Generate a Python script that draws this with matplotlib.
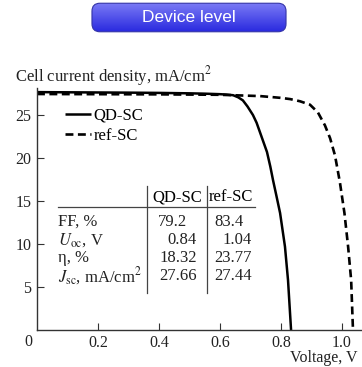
import numpy as np
import matplotlib
matplotlib.use("Agg")
import matplotlib.pyplot as plt
from matplotlib.patches import FancyBboxPatch
from matplotlib.lines import Line2D

# ---- data ----
qd_v = [0, 0.1, 0.2, 0.3, 0.4, 0.5, 0.55, 0.6, 0.62, 0.643, 0.66, 0.675, 0.69, 0.708,
        0.72, 0.731, 0.742, 0.754, 0.765, 0.774, 0.785, 0.797, 0.813, 0.823, 0.833]
qd_j = [27.66, 27.64, 27.62, 27.6, 27.57, 27.52, 27.48, 27.42, 27.38, 27.3, 27.05, 26.7,
        26.0, 25.0, 24.1, 23.0, 21.9, 20.7, 19.0, 17.4, 15.6, 13.6, 9.7, 5.8, 0]
ref_v = [0, 0.2, 0.4, 0.6, 0.731, 0.797, 0.83, 0.862, 0.895, 0.921, 0.944, 0.961,
         0.977, 0.993, 1.008, 1.02, 1.03, 1.036]
ref_j = [27.44, 27.42, 27.4, 27.35, 27.2, 27.0, 26.85, 26.6, 26.2, 25.3, 23.8, 22.3,
         20.3, 17.2, 13.6, 9.7, 5.8, 0]

series_labels = ["QD-SC", "ref-SC"]
param_labels = ["FF, %", r"$U_{\rm oc}$, V", "η, %", r"$J_{\rm sc}$, mA/cm$^2$"]
qd_vals = ["79.2", "0.84", "18.32", "27.66"]
ref_vals = ["83.4", "1.04", "23.77", "27.44"]

xticks = [0.2, 0.4, 0.6, 0.8, 1.0]
xticklabels = ["0.2", "0.4", "0.6", "0.8", "1.0"]
yticks = [5, 10, 15, 20, 25]

title_text = "Device level"
ylabel_text = "Cell current density, mA/cm$^2$"
xlabel_text = "Voltage, V"

# ---- style ----
plt.rcParams['font.family'] = ['Liberation Serif', 'DejaVu Serif']
plt.rcParams['mathtext.fontset'] = 'stix'
FS = 12
TFS = 11.5

W, H = 362, 367
fig = plt.figure(figsize=(W / 100, H / 100), dpi=100)

def px(x, y):
    return x / W, 1 - y / H

# axes geometry
ax_l, ax_r, ax_t, ax_b = 37, 362, 88, 330
ax = fig.add_axes([ax_l / W, 1 - ax_b / H, (ax_r - ax_l) / W, (ax_b - ax_t) / H])
ax.set_xlim(0, (ax_r - ax_l) / 305.0)
ax.set_ylim(0, (ax_b - ax_t) / 8.6)

ax.plot(qd_v, qd_j, color='black', lw=1.8, label=series_labels[0], solid_capstyle='butt')
ax.plot(ref_v, ref_j, color='black', lw=1.9, ls=(0, (3, 1.7)), label=series_labels[1])

for s in ['top', 'right']:
    ax.spines[s].set_visible(False)
for s in ['left', 'bottom']:
    ax.spines[s].set_linewidth(1.0)
    ax.spines[s].set_color('#333333')

ax.set_xticks(xticks)
ax.set_xticklabels(xticklabels)
ax.set_yticks(yticks)
ax.tick_params(direction='in', length=5, width=0.8, labelsize=TFS, colors='#333333',
               labelcolor='#222222')
ax.tick_params(axis='x', pad=3.5)
ax.tick_params(axis='y', pad=4)

leg = ax.legend(loc='upper left', bbox_to_anchor=((65 - ax_l) / (ax_r - ax_l), (ax_b - 108) / (ax_b - ax_t)),
                frameon=False, fontsize=FS, handlelength=1.55, handletextpad=0.15,
                borderpad=0, borderaxespad=0, labelspacing=0.25)

# origin label
fig.text(*px(28, 342), "0", fontsize=TFS, ha='center', va='center', color='#222222')

# axis labels
fig.text(*px(15, 76), ylabel_text, fontsize=FS, ha='left', va='center', color='#222222')
fig.text(*px(358, 358.5), xlabel_text, fontsize=TFS, ha='right', va='center', color='#222222')

# ---- table ----
col1_x, col2_x = 177, 231
fig.text(*px(col1_x, 197), series_labels[0], fontsize=FS, ha='center', va='center')
fig.text(*px(col2_x, 197), series_labels[1], fontsize=FS, ha='center', va='center')
row_y = [222, 240, 258, 276]
q_right = [187, 197, 197, 197]
r_right = [244, 252, 252, 252]
for i, lab in enumerate(param_labels):
    fig.text(*px(58, row_y[i]), lab, fontsize=FS, ha='left', va='center', color='#222222')
    fig.text(*px(q_right[i], row_y[i]), qd_vals[i], fontsize=FS, ha='right', va='center', color='#222222')
    fig.text(*px(r_right[i], row_y[i]), ref_vals[i], fontsize=FS, ha='right', va='center', color='#222222')

def fline(x0, y0, x1, y1):
    a, b = px(x0, y0)
    c, d = px(x1, y1)
    fig.add_artist(Line2D([a, c], [b, d], transform=fig.transFigure, color='#444444', lw=0.9))

fline(58, 207, 255, 207)
fline(147, 186, 147, 293)
fline(207, 186, 207, 293)

# ---- title button ----
bx0, by0, bx1, by1 = 90, 2, 288, 33
bax = fig.add_axes([bx0 / W, 1 - by1 / H, (bx1 - bx0) / W, (by1 - by0) / H])
bax.set_xlim(0, 1)
bax.set_ylim(0, 1)
bax.axis('off')
top = np.array([125, 125, 246]) / 255
bot = np.array([38, 38, 222]) / 255
t = np.linspace(0, 1, 64)[:, None]
grad = (bot[None, :] * (1 - t) + top[None, :] * t)[:, None, :]
patch = FancyBboxPatch((0.01, 0.04), 0.98, 0.92, boxstyle="round,pad=0,rounding_size=0.04",
                       mutation_aspect=6.4, transform=bax.transAxes,
                       facecolor='none', edgecolor='#3434a8', lw=0.8)
bax.add_patch(patch)
im = bax.imshow(grad, extent=[0, 1, 0, 1], origin='lower', aspect='auto')
im.set_clip_path(patch)
bax.text(0.5, 0.5, title_text, fontsize=12.5, family='Liberation Sans', color='white',
         ha='center', va='center')

fig.savefig("out.png", dpi=100)
